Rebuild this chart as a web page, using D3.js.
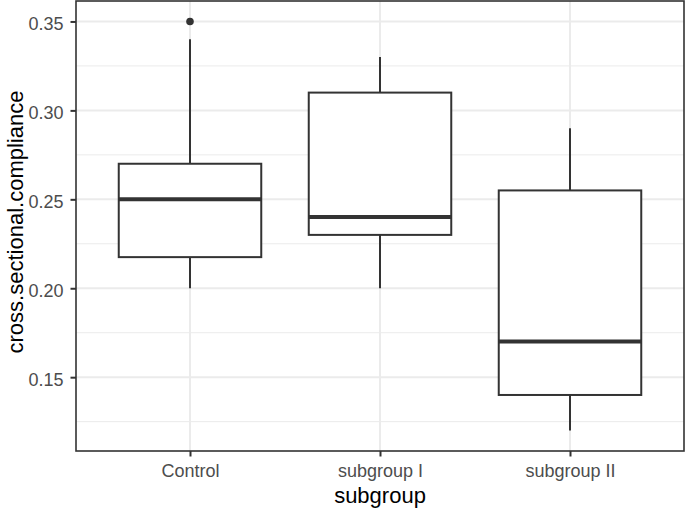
<!DOCTYPE html>
<html><head><meta charset="utf-8">
<script src="https://cdn.jsdelivr.net/npm/d3@7"></script>
<style>body{margin:0;background:#fff}svg{display:block}</style>
</head><body>
<script>
const categories = ["Control", "subgroup I", "subgroup II"];
const lowerWhisker = [0.20, 0.20, 0.12];
const q1 = [0.2175, 0.23, 0.14];
const median = [0.25, 0.24, 0.17];
const q3 = [0.27, 0.31, 0.255];
const upperWhisker = [0.34, 0.33, 0.29];
const outliers = [[0.35], [], []];
const yTicks = [0.15, 0.20, 0.25, 0.30, 0.35];
const yMinor = [0.125, 0.175, 0.225, 0.275, 0.325];
const xTitle = "subgroup";
const yTitle = "cross.sectional.compliance";

const W = 685, H = 512;
const m = {left: 76, right: 1, top: 1, bottom: 61};
const svg = d3.select("body").append("svg").attr("width", W).attr("height", H);
const font = "'Liberation Sans', Arial, sans-serif";

const x = d3.scalePoint().domain(categories).range([m.left, W - m.right]).padding(0.6);
const step = x.step();
const y = d3.scaleLinear().domain([0.1085, 0.3615]).range([H - m.bottom, m.top]);

const g = svg.append("g");
g.selectAll(".minor").data(yMinor).join("line")
  .attr("x1", m.left).attr("x2", W - m.right)
  .attr("y1", d => y(d)).attr("y2", d => y(d))
  .attr("stroke", "#EBEBEB").attr("stroke-width", 1);
g.selectAll(".majory").data(yTicks).join("line")
  .attr("x1", m.left).attr("x2", W - m.right)
  .attr("y1", d => y(d)).attr("y2", d => y(d))
  .attr("stroke", "#EBEBEB").attr("stroke-width", 2);
g.selectAll(".majorx").data(categories).join("line")
  .attr("x1", d => x(d)).attr("x2", d => x(d))
  .attr("y1", m.top).attr("y2", H - m.bottom)
  .attr("stroke", "#EBEBEB").attr("stroke-width", 2);

const bw = step * 0.75;
const col = "#333333";
categories.forEach((c, i) => {
  const cx = x(c);
  const bg = svg.append("g");
  bg.append("line").attr("x1", cx).attr("x2", cx)
    .attr("y1", y(q3[i])).attr("y2", y(upperWhisker[i]))
    .attr("stroke", col).attr("stroke-width", 2);
  bg.append("line").attr("x1", cx).attr("x2", cx)
    .attr("y1", y(q1[i])).attr("y2", y(lowerWhisker[i]))
    .attr("stroke", col).attr("stroke-width", 2);
  bg.append("rect").attr("x", cx - bw / 2).attr("width", bw)
    .attr("y", y(q3[i])).attr("height", y(q1[i]) - y(q3[i]))
    .attr("fill", "#fff").attr("stroke", col).attr("stroke-width", 2);
  bg.append("line").attr("x1", cx - bw / 2).attr("x2", cx + bw / 2)
    .attr("y1", y(median[i])).attr("y2", y(median[i]))
    .attr("stroke", col).attr("stroke-width", 4);
  bg.selectAll("circle").data(outliers[i]).join("circle")
    .attr("cx", cx).attr("cy", d => y(d)).attr("r", 3.8).attr("fill", col);
});

svg.append("rect").attr("x", m.left).attr("y", m.top)
  .attr("width", W - m.right - m.left).attr("height", H - m.bottom - m.top)
  .attr("fill", "none").attr("stroke", col).attr("stroke-width", 1.6);

const yAxis = svg.append("g").attr("transform", `translate(${m.left},0)`)
  .call(d3.axisLeft(y).tickValues(yTicks).tickFormat(d3.format(".2f")).tickSize(5.5).tickPadding(7));
const xAxis = svg.append("g").attr("transform", `translate(0,${H - m.bottom})`)
  .call(d3.axisBottom(x).tickSize(5.5).tickPadding(7.5));
[yAxis, xAxis].forEach(a => {
  a.select(".domain").remove();
  a.selectAll(".tick line").attr("stroke", col).attr("stroke-width", 2);
  a.selectAll(".tick text").attr("fill", "#4D4D4D").style("font-family", font).style("font-size", "18px");
});
yAxis.selectAll(".tick text").attr("dy", "0.32em").attr("y", 2.5);

svg.append("text").attr("x", x("subgroup I")).attr("y", 503)
  .attr("text-anchor", "middle").style("font-family", font).style("font-size", "22px")
  .attr("fill", "#000").text(xTitle);
svg.append("text").attr("transform", `translate(22.5,222) rotate(-90)`)
  .attr("text-anchor", "middle").style("font-family", font).style("font-size", "22px")
  .attr("fill", "#000").text(yTitle);
</script>
</body></html>
